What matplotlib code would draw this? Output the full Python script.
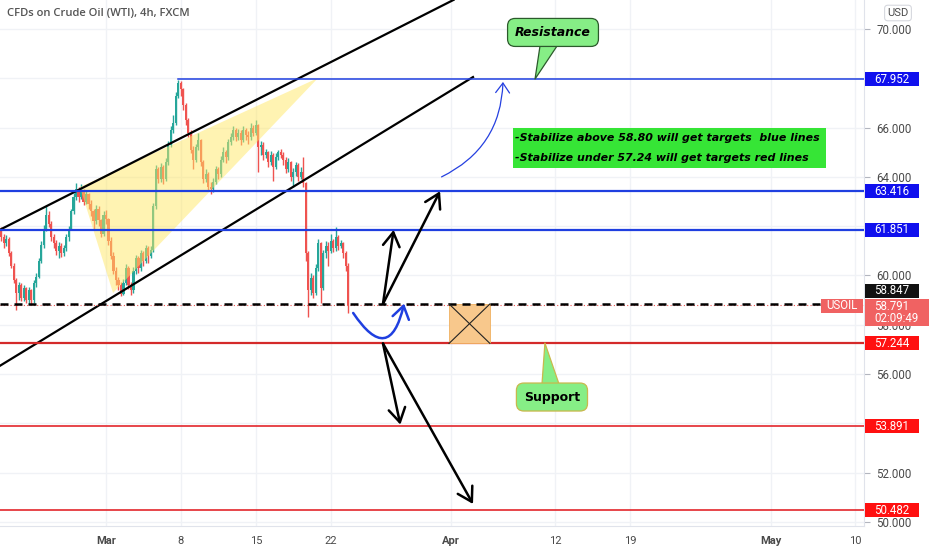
import numpy as np
import matplotlib.pyplot as plt
from matplotlib.patches import Rectangle, Polygon, FancyArrowPatch
from matplotlib.transforms import blended_transform_factory

# ---- data (x = trading days counted from Mon Mar 1, 4h candles) ----
first_bar = -7.0
bars_per_day = 6
first_open = 61.80
closes = [61.55, 61.30, 61.50, 60.90, 60.40, 59.80, 59.30, 59.60, 59.10, 59.50,
          59.00, 59.40, 59.00, 59.70, 59.95, 60.60, 61.25, 61.90, 62.45, 62.10,
          61.55, 61.30, 61.00, 61.20, 60.90, 61.10, 61.55, 61.90, 62.60, 63.20,
          63.50, 63.20, 63.45, 63.00, 63.30, 62.90, 62.60, 62.20, 62.70, 62.25,
          61.70, 62.45, 62.30, 61.40, 60.80, 60.20, 59.80, 59.60, 59.25, 59.70,
          60.30, 59.60, 59.40, 60.20, 60.70, 60.30, 60.90, 60.60, 61.10, 60.80,
          61.05, 62.80, 64.30, 63.90, 64.40, 63.90, 64.60, 65.30, 65.90, 66.20,
          67.30, 67.80, 67.55, 66.90, 66.30, 65.80, 65.10, 64.70, 65.20, 65.50,
          64.60, 63.90, 64.10, 63.60, 63.50, 63.80, 64.30, 64.10, 64.70, 65.00,
          64.80, 65.40, 65.60, 65.90, 65.60, 65.80, 65.50, 65.90, 65.70, 65.60,
          66.00, 65.80, 66.10, 65.20, 65.30, 64.90, 65.00, 64.60, 64.90, 64.40,
          64.80, 65.00, 64.90, 64.70, 64.30, 64.60, 64.00, 64.20, 64.50, 64.00,
          64.20, 63.75, 60.90, 59.40, 59.90, 59.30, 60.30, 61.30, 59.50, 60.90,
          61.20, 61.00, 61.40, 61.10, 61.55, 61.20, 61.30, 60.90, 60.40, 58.79]
highs = [61.95, 61.70, 61.65, 61.55, 61.00, 60.50, 59.90, 59.75, 59.70, 59.60,
         59.55, 59.55, 59.45, 59.80, 60.10, 60.70, 61.40, 62.05, 62.80, 62.60,
         62.20, 61.70, 61.45, 61.35, 61.30, 61.25, 61.70, 62.00, 62.70, 63.35,
         63.75, 63.60, 63.70, 63.50, 63.45, 63.35, 63.05, 62.70, 62.85, 62.80,
         62.30, 62.60, 62.65, 62.35, 61.55, 60.95, 60.35, 59.95, 59.75, 59.85,
         60.45, 60.40, 59.75, 60.35, 60.85, 60.80, 61.05, 61.00, 61.25, 61.20,
         61.20, 62.95, 64.50, 64.40, 64.55, 64.50, 64.75, 65.45, 66.05, 66.50,
         67.45, 67.95, 67.90, 67.60, 67.00, 66.40, 65.90, 65.25, 65.35, 65.80,
         65.55, 64.70, 64.30, 64.20, 63.80, 63.95, 64.45, 64.40, 64.85, 65.20,
         65.10, 65.55, 65.80, 66.05, 66.00, 65.95, 65.90, 66.05, 66.00, 65.85,
         66.20, 66.10, 66.30, 66.15, 65.45, 65.40, 65.15, 65.05, 65.05, 64.95,
         64.95, 65.10, 65.15, 65.00, 64.80, 64.75, 64.65, 64.35, 64.60, 64.55,
         64.40, 64.80, 63.80, 61.00, 60.10, 60.00, 60.45, 61.50, 61.35, 61.05,
         61.40, 61.35, 61.70, 61.50, 61.97, 61.65, 61.45, 61.35, 61.00, 60.50]
lows = [61.40, 61.10, 61.20, 60.80, 60.30, 59.70, 58.60, 59.00, 58.95, 58.95,
        58.90, 58.85, 58.80, 58.90, 59.55, 59.90, 60.50, 61.10, 61.80, 61.95,
        61.40, 61.10, 60.85, 60.70, 60.75, 60.80, 61.00, 61.40, 61.85, 62.50,
        63.05, 63.00, 63.10, 62.85, 62.90, 62.70, 62.40, 61.90, 62.10, 62.00,
        61.55, 61.60, 62.10, 61.25, 60.65, 60.05, 59.60, 59.40, 59.15, 59.20,
        59.60, 59.45, 59.20, 59.30, 60.05, 60.10, 60.20, 60.40, 60.50, 60.50,
        60.70, 60.95, 62.70, 63.75, 63.80, 63.70, 63.85, 64.50, 65.20, 65.80,
        66.10, 67.20, 67.30, 66.70, 66.10, 65.60, 64.95, 64.30, 64.60, 65.10,
        64.45, 63.75, 63.80, 63.45, 63.30, 63.40, 63.70, 63.90, 64.00, 64.60,
        64.55, 64.70, 65.30, 65.50, 65.45, 65.50, 65.30, 65.40, 65.50, 65.35,
        65.50, 65.65, 65.70, 64.20, 64.90, 64.70, 64.75, 64.40, 64.50, 63.85,
        64.30, 64.70, 64.75, 64.50, 64.15, 64.20, 63.85, 63.60, 64.05, 63.85,
        63.90, 63.60, 60.60, 58.30, 59.20, 59.10, 59.20, 60.20, 58.90, 59.40,
        60.70, 60.40, 60.90, 60.95, 61.00, 61.05, 61.10, 60.70, 60.20, 58.48]

tick_pos = [0, 5, 10, 15, 23, 30, 35, 44.4, 50]
tick_text = ['Mar', '8', '15', '22', 'Apr', '12', '19', 'May', '10']
month_ticks = ['Mar', 'Apr', 'May']
price_ticks = [50, 52, 54, 56, 58, 60, 62, 64, 66, 68, 70]
hidden_ticks = [54, 62, 68]   # covered by the level tags on the scale

blue_levels = [67.952, 63.416, 61.851]
red_levels = [57.244, 53.891, 50.482]
pivot_level = 58.847
last_price = 58.791
countdown = '02:09:49'
peak_day = 4.83

# drawing anchors (day, price)
upper_channel = [(-7.1, 61.85), (23.2, 71.18)]
lower_channel = [(-7.1, 56.33), (24.5, 68.05)]
triangle = [(-1.74, 63.59), (0.47, 59.29), (14.15, 68.01)]
up_arrows = [((18.49, 58.85), (19.2, 61.85)), ((18.49, 58.85), (22.3, 63.42))]
down_arrows = [((18.49, 57.24), (19.65, 53.95)), ((18.49, 57.24), (24.5, 50.73))]
u_turn = ((16.5, 58.48), (19.9, 58.86))
breakout_curve = ((22.4, 64.0), (26.5, 67.85))
box_zone = (22.9, 25.63, 57.244, 58.847)
resistance_note = ((29.84, 69.86), (28.64, 67.97))
support_note = ((29.77, 55.07), (29.3, 57.26))
note_lines = ['-Stabilize above 58.80 will get targets  blue lines',
              '-Stabilize under 57.24 will get targets red lines']
note_box = (27.17, 48.06, 64.36, 66.0)

UP, DOWN = '#26a69a', '#ef5350'
BLUE, RED = '#1f3fe0', '#e3262b'
GRID = '#f0f2f6'
TXT = '#4a4a4a'

fig = plt.figure(figsize=(9.32, 5.5), dpi=100)
ax = fig.add_axes([0, 24 / 550, 864 / 932, 526 / 550])
ax.set_xlim(-7.076, 50.6)
ax.set_ylim(49.838, 71.176)

# candles
n = len(closes)
x = first_bar + np.arange(n) / bars_per_day
c = np.array(closes)
o = np.r_[first_open, c[:-1]]
h = np.array(highs)
l = np.array(lows)
col = np.where(c >= o, UP, DOWN)
ax.vlines(x, np.minimum(l, np.minimum(o, c)), np.maximum(h, np.maximum(o, c)),
          colors=col, lw=1.0, zorder=3)
body = np.maximum(np.abs(c - o), 0.04)
ax.bar(x, body, bottom=np.minimum(o, c), width=0.14, color=col, lw=0, zorder=3)

# triangle pattern
ax.add_patch(Polygon(triangle, closed=True, fc='#ffe866', ec='none', alpha=0.5, zorder=4))

# channel lines
for line in (upper_channel, lower_channel):
    xs, ys = zip(*line)
    ax.plot(xs, ys, color='black', lw=1.6, zorder=5)

# horizontal levels
ax.plot([peak_day, 51], [blue_levels[0]] * 2, color=BLUE, lw=1.1, zorder=5)
for lv in blue_levels[1:]:
    ax.axhline(lv, color=BLUE, lw=1.6, zorder=5)
ax.axhline(red_levels[0], color='#d42a2a', lw=1.6, zorder=5)
for lv in red_levels[1:]:
    ax.axhline(lv, color=RED, lw=1.2, zorder=5)
ax.axhline(last_price, color=DOWN, lw=0.8, ls=(0, (1, 2)), zorder=5)
ax.axhline(pivot_level, color='black', lw=1.8, ls=(0, (3.2, 2.4)), zorder=6)

# orange box with cross
x0, x1, y0, y1 = box_zone
ax.add_patch(Rectangle((x0, y0), x1 - x0, y1 - y0, fc='#f8c88c', ec='#f0b060', lw=0.6, zorder=5))
ax.plot([x0, x1], [y0, y1], color='#222222', lw=0.8, zorder=6)
ax.plot([x0, x1], [y1, y0], color='#222222', lw=0.8, zorder=6)

# arrows
for a, b in up_arrows + down_arrows:
    ax.add_patch(FancyArrowPatch(a, b, arrowstyle='->,head_length=0.5,head_width=0.3',
                                 mutation_scale=20, color='black', lw=1.8,
                                 shrinkA=0, shrinkB=0, zorder=7))
ax.add_patch(FancyArrowPatch(u_turn[0], u_turn[1], connectionstyle='arc3,rad=1.15',
                             arrowstyle='->,head_length=0.45,head_width=0.3',
                             mutation_scale=20, color='#1f3fe0', lw=1.8,
                             shrinkA=0, shrinkB=0, zorder=7))
ax.add_patch(FancyArrowPatch(breakout_curve[0], breakout_curve[1], connectionstyle='arc3,rad=0.3',
                             arrowstyle='->,head_length=0.35,head_width=0.25',
                             mutation_scale=20, color='#2540e0', lw=0.9,
                             shrinkA=0, shrinkB=0, zorder=7))

# callouts
for (box, tip), label, style, edge in [(resistance_note, 'Resistance', 'italic', '#2c5a2c'),
                                       (support_note, 'Support', 'normal', '#c9b84c')]:
    ax.annotate(label, xy=tip, xytext=box, ha='center', va='center',
                fontsize=9, fontweight='bold', fontstyle=style, color='black', zorder=8,
                bbox=dict(boxstyle='round,pad=0.6,rounding_size=0.6', fc='#86ee86', ec=edge, lw=0.9),
                arrowprops=dict(arrowstyle='wedge,tail_width=1.6', mutation_scale=10,
                                fc='#86ee86', ec=edge, lw=0.9, shrinkA=0, shrinkB=0, patchA=None))

# green note
nx0, nx1, ny0, ny1 = note_box
ax.add_patch(Rectangle((nx0, ny0), nx1 - nx0, ny1 - ny0, fc='#36e536', ec='none', zorder=8))
for k, line in enumerate(note_lines):
    ax.text(nx0 + 0.15, ny1 - (ny1 - ny0) * (0.26 + 0.5 * k), line, ha='left', va='center',
            fontsize=7.9, fontweight='bold', fontstyle='italic', color='black', zorder=9)

# axes styling
for s in ['top', 'left']:
    ax.spines[s].set_visible(False)
for s in ['bottom', 'right']:
    ax.spines[s].set_color('#e0e3eb')
ax.yaxis.tick_right()
ax.set_yticks(price_ticks)
ax.set_yticklabels(['' if v in hidden_ticks else f'{v:.3f}' for v in price_ticks])
ax.tick_params(axis='y', length=4, width=0.8, color='#b2b5be', pad=5, labelsize=8.3, labelcolor=TXT)
ax.set_xticks(tick_pos)
ax.set_xticklabels(tick_text)
ax.tick_params(axis='x', length=0, pad=7, labelsize=8, labelcolor=TXT)
for t in ax.get_xticklabels() + ax.get_yticklabels():
    t.set_family('Roboto')
for t in ax.get_xticklabels():
    if t.get_text() in month_ticks:
        t.set_fontweight('bold')
ax.grid(True, color=GRID, lw=1, zorder=0)
ax.set_axisbelow(True)

# price labels on the scale
tr = blended_transform_factory(ax.transAxes, ax.transData)
px = 1 / 864
unit = 24.65  # pixels per dollar


def tag(y, text, color, h_px=14, w_px=54, dy=0.0):
    hh = h_px / unit
    ax.add_patch(Rectangle((1 + px, y + dy - hh / 2), w_px * px, hh, transform=tr,
                           fc=color, ec='none', clip_on=False, zorder=10))
    ax.text(1 + 10 * px, y + dy, text, transform=tr, ha='left', va='center', color='white',
            fontsize=8.3, family='Roboto', clip_on=False, zorder=11)


for lv in blue_levels:
    tag(lv, f'{lv:.3f}', '#1010ee')
for lv in red_levels:
    tag(lv, f'{lv:.3f}', '#ff1010')
tag(pivot_level, f'{pivot_level:.3f}', '#111111', dy=0.53)
hh = 27 / unit
ax.add_patch(Rectangle((1 + px, last_price + 0.27 - hh), 64 * px, hh, transform=tr,
                       fc='#f06262', ec='none', clip_on=False, zorder=10))
ax.text(1 + 10 * px, last_price - 0.03, f'{last_price:.3f}', transform=tr, ha='left', va='center',
        color='white', fontsize=8.3, family='Roboto', clip_on=False, zorder=11)
ax.text(1 + 10 * px, last_price - 0.55, countdown, transform=tr, ha='left', va='center',
        color='white', fontsize=8.3, family='Roboto', clip_on=False, zorder=11)
ax.add_patch(Rectangle((1 - 43 * px, last_price + 0.27 - 14 / unit), 42 * px, 14 / unit, transform=tr,
                       fc='#f06262', ec='none', zorder=10))
ax.text(1 - 22 * px, last_price - 0.01, 'USOIL', transform=tr, ha='center', va='center', color='white',
        fontsize=8.3, family='Roboto', zorder=11)

fig.text(7 / 932, 1 - 14 / 550, 'CFDs on Crude Oil (WTI), 4h, FXCM', ha='left', va='center',
         fontsize=8.1, family='Open Sans', fontweight='semibold', color='#555555')
fig.text(898 / 932, 1 - 13 / 550, 'USD', ha='center', va='center', fontsize=8, family='Roboto',
         color=TXT, bbox=dict(boxstyle='round,pad=0.25,rounding_size=0.3', fc='white', ec='#d6d8de', lw=0.8))

fig.savefig('out.png', dpi=100)
